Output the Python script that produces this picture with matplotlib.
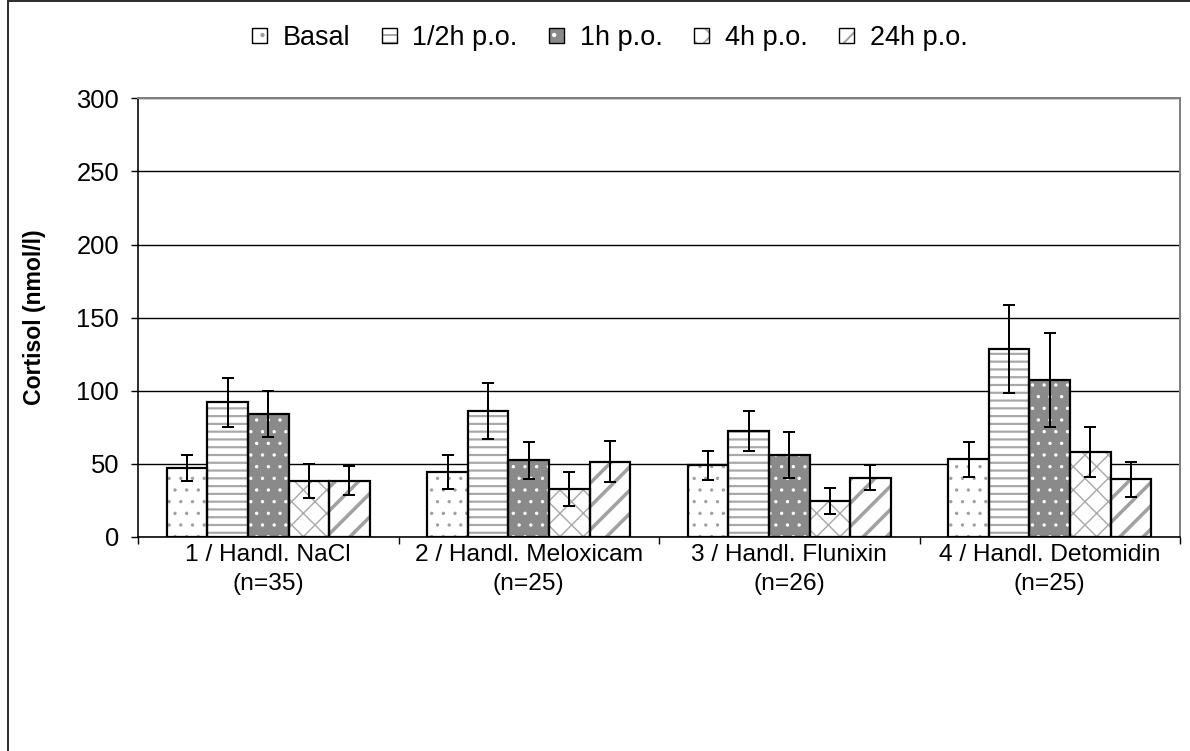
import matplotlib
matplotlib.use("Agg")
import matplotlib.pyplot as plt
import matplotlib.patches as mpatches
from matplotlib.legend_handler import HandlerBase
import numpy as np

plt.rcParams['font.family'] = ['Liberation Sans', 'DejaVu Sans']

categories = ["1 / Handl. NaCl\n(n=35)", "2 / Handl. Meloxicam\n(n=25)",
              "3 / Handl. Flunixin\n(n=26)", "4 / Handl. Detomidin\n(n=25)"]
series_names = ["Basal", "1/2h p.o.", "1h p.o.", "4h p.o.", "24h p.o."]

basal = [47, 44.5, 49, 53]
half_h = [92, 86, 72.5, 128.5]
one_h = [84, 52.5, 56, 107.5]
four_h = [38.5, 33, 24.5, 58]
day_h = [38.5, 51.5, 40.5, 39.5]

basal_err = [9, 11.5, 9.7, 12.2]
half_h_err = [17, 19, 13.4, 30]
one_h_err = [15.5, 12.8, 15.5, 32.3]
four_h_err = [11.7, 11.7, 9, 17]
day_h_err = [10, 14, 8.7, 12]

y_ticks = [0, 50, 100, 150, 200, 250, 300]

values = [basal, half_h, one_h, four_h, day_h]
errors = [basal_err, half_h_err, one_h_err, four_h_err, day_h_err]

DPI = 140
P = 72.0 / DPI          # points per pixel

# styles: (facecolor, hatch, hatchcolor, hatch linewidth in px)
styles = [
    ("white", "..", "#a0a0a0", 1.0),
    ("white", "---", "#a8a8a8", 2.2),
    ("#8a8a8a", "..", "white", 1.0),
    ("white", "xx", "#a8a8a8", 1.4),
    ("white", "//", "#a0a0a0", 3.5),
]

fig = plt.figure(figsize=(1190 / DPI, 751 / DPI), dpi=DPI)
ax = fig.add_axes([138/1190, 1-537/751, (1180-138)/1190, (537-98.3)/751])

n_groups = len(categories)
n_series = len(series_names)
fill = 0.7775
bar_w = fill / n_series
x = np.arange(n_groups)

for i in range(n_series):
    fc, hatch, hc, hlw = styles[i]
    pos = x - fill/2 + bar_w*(i + 0.5)
    with plt.rc_context({'hatch.linewidth': hlw * P}):
        hb = ax.bar(pos, values[i], width=bar_w, color=fc, edgecolor=hc,
                    hatch=hatch, linewidth=0, zorder=2)
        for p in hb:
            try:
                p.set_hatch_linewidth(hlw * P)
            except Exception:
                pass
    ax.bar(pos, values[i], width=bar_w, facecolor="none", edgecolor="black",
           linewidth=2.2 * P, zorder=3)
    ax.errorbar(pos, values[i], yerr=errors[i], fmt="none", ecolor="black",
                elinewidth=2.0 * P, capsize=6.5 * P, capthick=2.0 * P, zorder=4)

ax.set_xlim(-0.5, n_groups - 0.5)
ax.set_ylim(0, 300)
ax.set_yticks(y_ticks)
ax.set_yticklabels([str(t) for t in y_ticks], fontsize=25.5 * P)
ax.yaxis.grid(True, color="black", linewidth=1.4 * P, zorder=0)
ax.set_axisbelow(True)

ax.set_xticks(np.arange(-0.5, n_groups, 1.0))
ax.set_xticklabels([])
ax.set_xticks(x, minor=True)
ax.set_xticklabels(categories, minor=True, fontsize=24.5 * P, linespacing=1.4)
ax.tick_params(axis="x", which="minor", length=0, pad=7 * P)
ax.tick_params(axis="x", which="major", direction="out", length=7 * P, width=1.4 * P)
ax.tick_params(axis="y", direction="out", length=7 * P, width=1.4 * P, pad=12 * P)

for s in ["top", "right"]:
    ax.spines[s].set_color("#808080")
    ax.spines[s].set_linewidth(2.0 * P)
for s in ["left", "bottom"]:
    ax.spines[s].set_color("black")
    ax.spines[s].set_linewidth(1.6 * P)

ax.set_ylabel("Cortisol (nmol/l)", fontsize=23 * P, fontweight="bold")
ax.yaxis.set_label_coords((46 - 138) / 1042, 0.5)

# legend handles
handles = []
for i in range(n_series):
    fc, hatch, hc, hlw = styles[i]
    handles.append(mpatches.Patch(facecolor=fc, edgecolor="black", hatch=hatch,
                                  linewidth=1.0, label=series_names[i]))

class SquareHandler(HandlerBase):
    def __init__(self, style):
        super().__init__()
        self.style = style

    def create_artists(self, legend, orig_handle, xdescent, ydescent, width,
                       height, fontsize, trans):
        fc, hatch, hc, hlw = self.style
        s = width
        x0 = 0
        y0 = (height - s) / 2
        r1 = mpatches.Rectangle((x0, y0), s, s, facecolor=fc, edgecolor=hc,
                                hatch=hatch, linewidth=0, transform=trans)
        r2 = mpatches.Rectangle((x0, y0), s, s, facecolor="none",
                                edgecolor="black", linewidth=1.4 * P,
                                transform=trans)
        return [r1, r2]

hmap = {h: SquareHandler(styles[i]) for i, h in enumerate(handles)}
LPX = 27.0
fig.legend(handles=handles, labels=series_names, handler_map=hmap,
           loc="center left", bbox_to_anchor=(252/1190, 1-38/751), ncol=5,
           frameon=False, fontsize=LPX * P, handlelength=15/LPX,
           handleheight=0.7, handletextpad=16/LPX, columnspacing=31/LPX,
           borderpad=0, borderaxespad=0)

# figure border
border = mpatches.Rectangle((8/1190, -0.05), 1.2, 1.05 - 1.5/751,
                            transform=fig.transFigure, fill=False,
                            edgecolor="#303030", linewidth=2.0 * P)
fig.patches.append(border)

fig.savefig("out.png", dpi=DPI)
